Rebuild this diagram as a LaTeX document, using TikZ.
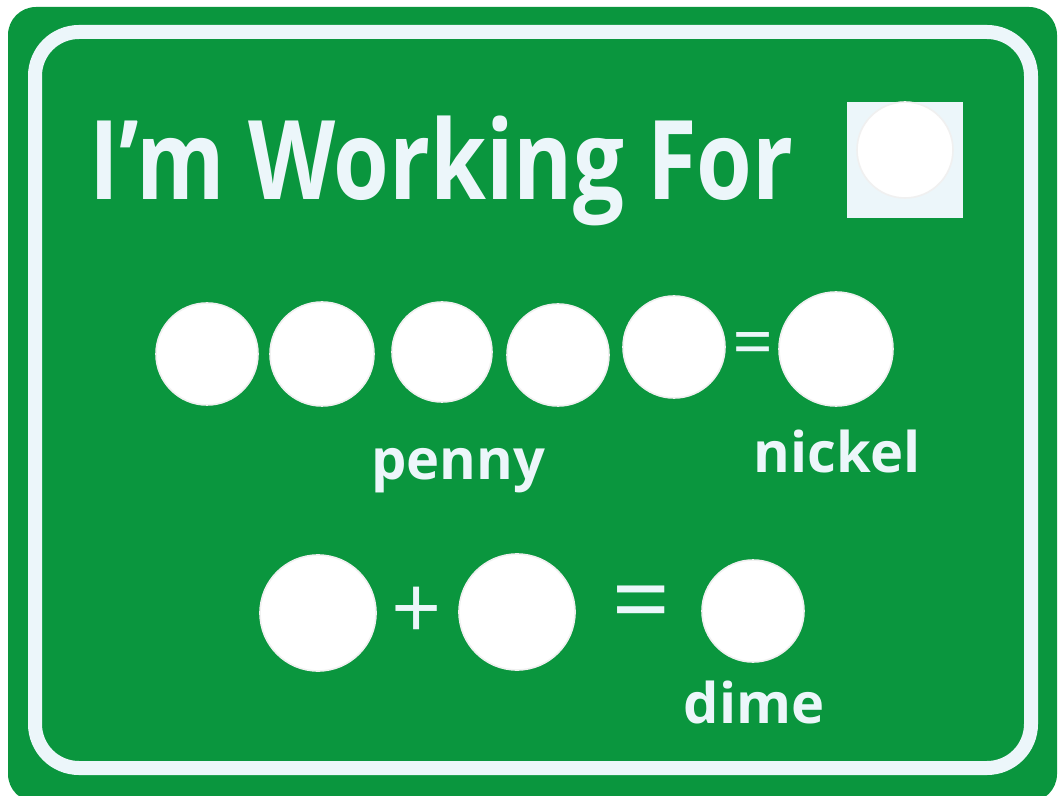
\documentclass[tikz,border=0pt]{standalone}
\usepackage{fontspec}
\setmainfont{Open Sans}
\newfontfamily\titlefont[FakeStretch=0.82]{Open Sans}
\usepackage{tikz}
\usetikzlibrary{calc}

\definecolor{boardgreen}{RGB}{10,150,62}
\definecolor{chalk}{RGB}{236,246,250}

\tikzset{
    felt/.style={circle, fill=white, draw=gray!12, line width=0.8pt, inner sep=0pt},
    word/.style={text=chalk, font=\bfseries\fontsize{28}{28}\selectfont, inner sep=0pt, anchor=base},
    sign/.style={text=chalk, font=\fontsize{#1}{#1}\selectfont, inner sep=0pt}
}

\begin{document}
\begin{tikzpicture}[x=0.5pt,y=-0.5pt]

\useasboundingbox (0,0) rectangle (1060,796);

% Board and its border
\fill[white] (0,0) rectangle (1060,796);
\fill[boardgreen, rounded corners=14pt] (8,7) rectangle (1057,802);
\draw[chalk, line width=7pt, rounded corners=22pt] (35,32) rectangle (1031,768);

% Title
\node[text=chalk, font=\titlefont\bfseries\fontsize{55}{55}\selectfont,
      inner sep=0pt, anchor=base west] (title) at (89,200) {I’m Working For};

% Prize box
\node[fill=chalk, minimum size=58pt, inner sep=0pt] (prize) at (905,160) {};
\node[felt, minimum size=48pt] (prizedot) at (905,150) {};

% Five pennies make a nickel
\node[felt, minimum size=51pt] (p1) at (207,354) {};
\node[felt, minimum size=52pt] (p2) at (322,354) {};
\node[felt, minimum size=50pt] (p3) at (442,352) {};
\node[felt, minimum size=51pt] (p4) at (558,355) {};
\node[felt, minimum size=51pt] (p5) at (674,347) {};
\node[sign=36] (eq1) at (753,350) {=};
\node[felt, minimum size=57pt] (nick) at (836,349) {};
\node[word] (penny) at (458,480) {penny};
\node[word] (nickel) at (837,473) {nickel};

% Two nickels make a dime
\node[felt, minimum size=58pt] (d1) at (318,613) {};
\node[sign=44] (plus) at (417,613) {+};
\node[felt, minimum size=58pt] (d2) at (517,612) {};
\node[sign=52] (eq2) at (641,611) {=};
\node[felt, minimum size=51pt] (dimedot) at (753,611) {};
\node[word] (dime) at (754,723) {dime};

\end{tikzpicture}
\end{document}
